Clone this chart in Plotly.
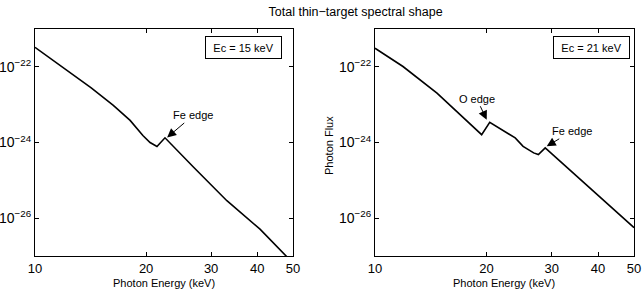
import math
import plotly.graph_objects as go

# Left panel (Ec = 15 keV)
energy_15 = [10.0, 13.2, 14.2, 16.3, 18.1, 19.6, 20.5, 21.4, 22.5, 26.9, 33.1, 40.7, 47.6, 50.0]
flux_15 = [3.27e-22, 4.43e-23, 2.77e-23, 9.6e-24, 3.84e-24, 1.53e-24, 1.0e-24, 7.83e-25,
           1.33e-24, 2.21e-25, 2.89e-26, 5.12e-27, 1.06e-27, 6.5e-28]

# Right panel (Ec = 21 keV)
energy_21 = [10.0, 11.9, 14.7, 17.0, 19.4, 20.4, 23.1, 23.9, 25.1, 26.8, 27.6, 28.8, 50.0]
flux_21 = [3.10e-22, 1.02e-22, 2.02e-23, 5.42e-24, 1.61e-24, 3.40e-24, 1.61e-24, 1.32e-24,
           7.93e-25, 5.31e-25, 4.79e-25, 7.18e-25, 5.60e-27]

x_ticks = [10, 20, 30, 40, 50]
x_tick_labels = ["10", "20", "30", "40", "50"]
y_ticks = [1e-22, 1e-24, 1e-26]
y_tick_labels = ["10<sup>\u221222</sup>", "10<sup>\u221224</sup>", "10<sup>\u221226</sup>"]

# annotations: (label, energy, flux, ax, ay)
edges_15 = [("Fe edge", 22.8, 10 ** -23.867, 26, -22)]
edges_21 = [("O edge", 20.02, 10 ** -23.398, -10, -21),
            ("Fe edge", 29.07, 10 ** -24.101, 25, -15)]

FONT = "Liberation Sans, Arial, Helvetica, sans-serif"

fig = go.Figure()
fig.add_trace(go.Scatter(x=energy_15, y=flux_15, mode="lines",
                         line=dict(color="black", width=1.6), xaxis="x", yaxis="y",
                         showlegend=False, hoverinfo="skip"))
fig.add_trace(go.Scatter(x=energy_21, y=flux_21, mode="lines",
                         line=dict(color="black", width=1.6), xaxis="x2", yaxis="y2",
                         showlegend=False, hoverinfo="skip"))

def xax(domain, anchor):
    return dict(domain=domain, anchor=anchor, type="log", automargin=False,
                range=[1, math.log10(50)], tickvals=x_ticks, ticktext=x_tick_labels,
                ticks="inside", ticklen=4, tickwidth=1, tickcolor="black",
                showline=True, linecolor="black", linewidth=1, mirror="allticks",
                showgrid=False, zeroline=False,
                tickfont=dict(size=13, color="black", family=FONT))

def yax(anchor):
    return dict(domain=[0, 1], anchor=anchor, type="log", range=[-27, -21], automargin=False,
                tickvals=y_ticks, ticktext=y_tick_labels,
                ticks="inside", ticklen=4, tickwidth=1, tickcolor="black",
                showline=True, linecolor="black", linewidth=1, mirror="allticks",
                showgrid=False, zeroline=False,
                tickfont=dict(size=14, color="black", family=FONT))

annotations = []
for (lab, e, f, ax, ay) in edges_15:
    annotations.append(dict(text=lab, x=math.log10(e), y=math.log10(f), xref="x", yref="y",
                            showarrow=True, ax=ax, ay=ay, arrowhead=2, arrowsize=1.8,
                            arrowwidth=1, arrowcolor="black",
                            font=dict(size=11, color="black", family=FONT)))
for (lab, e, f, ax, ay) in edges_21:
    annotations.append(dict(text=lab, x=math.log10(e), y=math.log10(f), xref="x2", yref="y2",
                            showarrow=True, ax=ax, ay=ay, arrowhead=2, arrowsize=1.8,
                            arrowwidth=1, arrowcolor="black",
                            font=dict(size=11, color="black", family=FONT)))

annotations.append(dict(text="Ec = 15 keV", xref="x domain", yref="y domain",
                        x=0.957, y=0.969, xanchor="right", yanchor="top", showarrow=False,
                        bordercolor="black", borderwidth=1, bgcolor="white",
                        width=71, height=17, borderpad=2,
                        font=dict(size=11, color="black", family=FONT)))
annotations.append(dict(text="Ec = 21 keV", xref="x2 domain", yref="y2 domain",
                        x=0.985, y=0.969, xanchor="right", yanchor="top", showarrow=False,
                        bordercolor="black", borderwidth=1, bgcolor="white",
                        width=71, height=17, borderpad=2,
                        font=dict(size=11, color="black", family=FONT)))

# axis titles
for xr in ["x domain", "x2 domain"]:
    annotations.append(dict(text="Photon Energy (keV)", xref=xr, yref="paper",
                            x=0.5, y=-0.119, xanchor="center", yanchor="middle",
                            showarrow=False,
                            font=dict(size=11, color="black", family=FONT)))
annotations.append(dict(text="Photon Flux", xref="paper", yref="paper",
                        x=0.4908, y=0.489, xanchor="center", yanchor="middle",
                        textangle=-90, showarrow=False,
                        font=dict(size=11, color="black", family=FONT)))

fig.update_layout(
    width=643, height=293,
    margin=dict(l=35, r=9, t=29, b=37, autoexpand=False),
    paper_bgcolor="white", plot_bgcolor="white",
    title=dict(text="Total thin\u2212target spectral shape", x=0.553, xanchor="center",
               y=0.975, yanchor="top", automargin=False,
               font=dict(size=12.5, color="black", family=FONT)),
    xaxis=xax([0, 0.4307], "y"),
    yaxis=yax("x"),
    xaxis2=xax([0.5676, 1], "y2"),
    yaxis2=yax("x2"),
    annotations=annotations,
    font=dict(family=FONT, color="black"),
    hovermode=False,
)

fig.write_html("out.html", config={"displayModeBar": False, "staticPlot": True},
               post_script="document.body.style.margin='0';document.body.style.overflow='hidden';")
